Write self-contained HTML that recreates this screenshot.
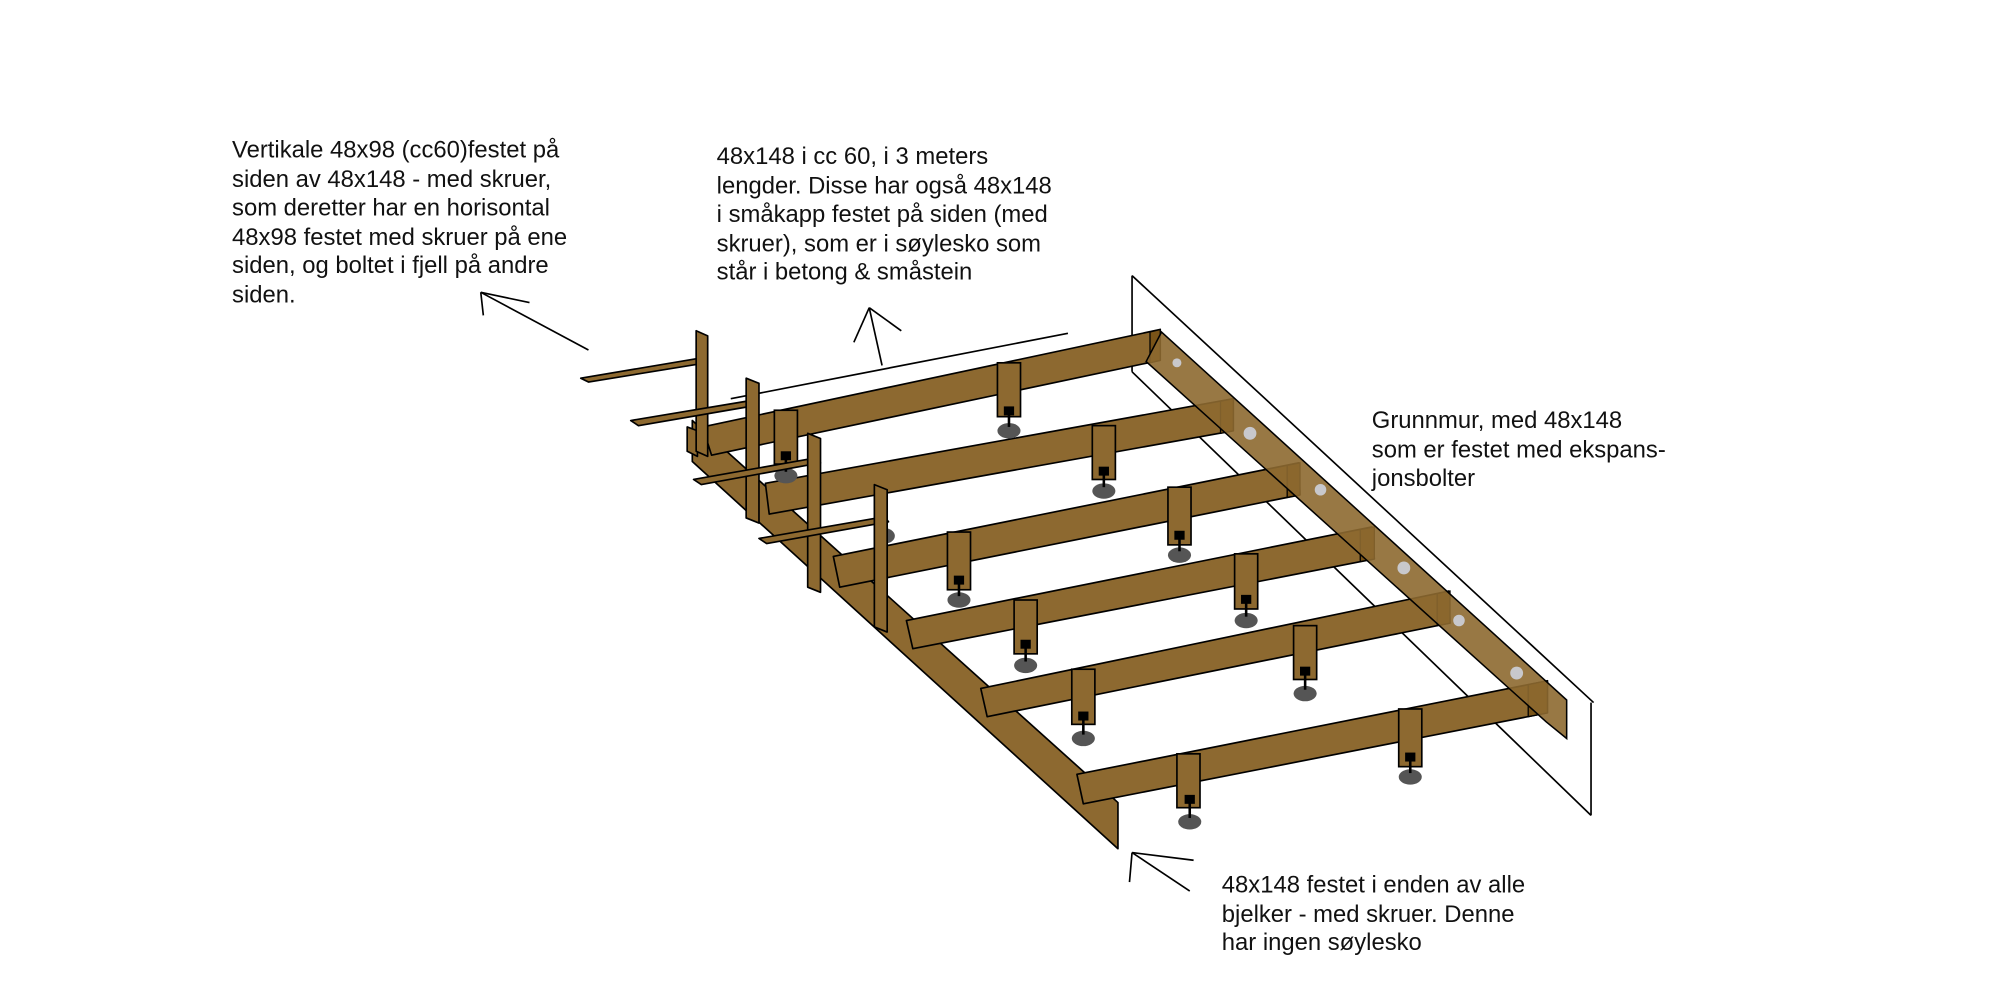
<!DOCTYPE html>
<html><head><meta charset="utf-8"><style>
html,body{margin:0;padding:0;background:#fff;}
svg{display:block;}
text{font-family:"Liberation Sans",sans-serif;font-size:18.6px;fill:#111;}
</style></head><body>
<svg width="2000" height="1000" viewBox="0 0 1560 780" xmlns="http://www.w3.org/2000/svg">
<rect width="1560" height="780" fill="#fff"/>
<g stroke="#000" stroke-width="1.3" fill="none">
<line x1="883" y1="215" x2="1243" y2="548"/>
<line x1="883" y1="215" x2="883" y2="290"/>
<line x1="883" y1="290" x2="1241" y2="636"/>
<line x1="1241" y1="548" x2="1241" y2="636"/>
<line x1="570" y1="311" x2="833" y2="260"/>
</g>
<g stroke="#000" stroke-width="1.3" fill="#8d6930" stroke-linejoin="round">
<polygon points="540,328 872,626 872,662 540,360"/>
<polygon points="548,333 905,257 905,281 555,355"/>
<polygon points="597,377 962,311 962,336 600,401"/>
<polygon points="650,434 1013,361 1014,386 655,458"/>
<polygon points="707,484 1070,411 1072,436 712,506"/>
<polygon points="765,537 1130,461 1131,486 770,559"/>
<polygon points="840,604 1207,531 1207,556 845,627"/>
</g>
<g fill="#7a5418" stroke="#000" stroke-width="1">
<polygon points="897,259 905,257 905,281 897,283"/>
<polygon points="952,313 962,311 962,336 952,338"/>
<polygon points="1004,363 1014,361 1014,386 1004,388"/>
<polygon points="1061,413 1072,411 1072,436 1061,438"/>
<polygon points="1121,463 1131,461 1131,486 1121,488"/>
<polygon points="1192,534 1207,531 1207,556 1192,559"/>
</g>
<polygon points="906,259 1222,546 1222,576 1206,563 894,282" fill="#8d6930" fill-opacity="0.9" stroke="#000" stroke-width="1.2"/>
<g fill="#c8c8cc">
<circle cx="918" cy="283" r="3.5"/><circle cx="975" cy="338" r="5"/><circle cx="1030" cy="382" r="4.5"/>
<circle cx="1095" cy="443" r="5"/><circle cx="1138" cy="484" r="4.5"/><circle cx="1183" cy="525" r="5"/>
</g>
<g stroke="#000" stroke-width="1.3" fill="#8d6930">
<rect x="604" y="320" width="18" height="42"/>
<rect x="778" y="283" width="18" height="42"/>
<rect x="852" y="332" width="18" height="42"/>
<rect x="739" y="415" width="18" height="45"/>
<rect x="911" y="380" width="18" height="45"/>
<rect x="791" y="468" width="18" height="42"/>
<rect x="963" y="432" width="18" height="43"/>
<rect x="836" y="522" width="18" height="43"/>
<rect x="1009" y="488" width="18" height="42"/>
<rect x="918" y="588" width="18" height="42"/>
<rect x="1091" y="553" width="18" height="45"/>
</g>
<g>
<g fill="#555"><ellipse cx="613" cy="371" rx="9" ry="6"/><ellipse cx="787" cy="336" rx="9" ry="6"/><ellipse cx="861" cy="383" rx="9" ry="6"/><ellipse cx="690" cy="418" rx="8" ry="6"/><ellipse cx="748" cy="468" rx="9" ry="6"/><ellipse cx="920" cy="433" rx="9" ry="6"/><ellipse cx="800" cy="519" rx="9" ry="6"/><ellipse cx="972" cy="484" rx="9" ry="6"/><ellipse cx="845" cy="576" rx="9" ry="6"/><ellipse cx="1018" cy="541" rx="9" ry="6"/><ellipse cx="928" cy="641" rx="9" ry="6"/><ellipse cx="1100" cy="606" rx="9" ry="6"/></g>
<g stroke="#000" stroke-width="2"><line x1="613" y1="356" x2="613" y2="368"/><line x1="787" y1="320" x2="787" y2="333"/><line x1="861" y1="368" x2="861" y2="380"/><line x1="748" y1="453" x2="748" y2="465"/><line x1="920" y1="418" x2="920" y2="430"/><line x1="800" y1="503" x2="800" y2="516"/><line x1="972" y1="468" x2="972" y2="481"/><line x1="845" y1="559" x2="845" y2="573"/><line x1="1018" y1="524" x2="1018" y2="538"/><line x1="928" y1="624" x2="928" y2="638"/><line x1="1100" y1="592" x2="1100" y2="603"/></g>
<g fill="#000"><rect x="609" y="352" width="8" height="7"/><rect x="783" y="317" width="8" height="7"/><rect x="857" y="364" width="8" height="7"/><rect x="744" y="449" width="8" height="7"/><rect x="916" y="414" width="8" height="7"/><rect x="796" y="499" width="8" height="7"/><rect x="968" y="464" width="8" height="7"/><rect x="841" y="555" width="8" height="7"/><rect x="1014" y="520" width="8" height="7"/><rect x="924" y="620" width="8" height="7"/><rect x="1096" y="587" width="8" height="7"/></g>
</g>
<g stroke="#000" stroke-width="1.3" fill="#8d6930" stroke-linejoin="round">
<polygon points="536,333 544,336 544,356 536,352"/>
<polygon points="453,295 548,279 551,283 459,298"/>
<polygon points="543,258 552,262 552,356 543,352"/>
<polygon points="492,328 588,312 591,316 498,332"/>
<polygon points="582,295 592,299 592,408 582,404"/>
<polygon points="541,374 637,357 640,361 547,378"/>
<polygon points="630,338 640,342 640,462 630,458"/>
<polygon points="592,420 690,403 693,407 598,424"/>
<polygon points="682,378 692,382 692,493 682,489"/>
</g>
<g stroke="#000" stroke-width="1.3" fill="none">
<line x1="459" y1="273" x2="375" y2="228"/><line x1="375" y1="228" x2="413" y2="236"/><line x1="375" y1="228" x2="377" y2="246"/>
<line x1="688" y1="285" x2="678" y2="240"/><line x1="678" y1="240" x2="666" y2="267"/><line x1="678" y1="240" x2="703" y2="258"/>
<line x1="928" y1="695" x2="883" y2="665"/><line x1="883" y1="665" x2="931" y2="671"/><line x1="883" y1="665" x2="881" y2="688"/>
</g>
<text x="181" y="123">Vertikale 48x98 (cc60)festet på</text>
<text x="181" y="146">siden av 48x148 - med skruer,</text>
<text x="181" y="168">som deretter har en horisontal</text>
<text x="181" y="191">48x98 festet med skruer på ene</text>
<text x="181" y="213">siden, og boltet i fjell på andre</text>
<text x="181" y="236">siden.</text>
<text x="559" y="128">48x148 i cc 60, i 3 meters</text>
<text x="559" y="151">lengder. Disse har også 48x148</text>
<text x="559" y="173">i småkapp festet på siden (med</text>
<text x="559" y="196">skruer), som er i søylesko som</text>
<text x="559" y="218">står i betong &amp; småstein</text>
<text x="1070" y="334">Grunnmur, med 48x148</text>
<text x="1070" y="357">som er festet med ekspans-</text>
<text x="1070" y="379">jonsbolter</text>
<text x="953" y="696">48x148 festet i enden av alle</text>
<text x="953" y="719">bjelker - med skruer. Denne</text>
<text x="953" y="741">har ingen søylesko</text>
</svg>
</body></html>
